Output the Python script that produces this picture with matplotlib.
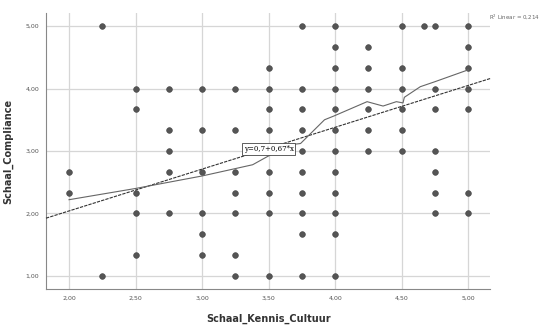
import matplotlib.pyplot as plt
import numpy as np

# scatter points per Kennis_Cultuur column
kennis = [2.0, 2.25, 2.5, 2.75, 3.0, 3.25, 3.5, 3.75, 4.0, 4.25, 4.5, 4.67, 4.75, 5.0]
compliance = [
    [2.67, 2.33],
    [5.0, 1.0],
    [4.0, 3.67, 2.33, 2.0, 1.33],
    [4.0, 3.33, 3.0, 2.67, 2.0],
    [4.0, 3.33, 2.67, 2.0, 1.67, 1.33],
    [4.0, 3.33, 2.67, 2.33, 2.0, 1.33, 1.0],
    [4.33, 4.0, 3.67, 3.33, 2.67, 2.33, 2.0, 1.0],
    [5.0, 4.0, 3.67, 3.33, 3.0, 2.67, 2.33, 2.0, 1.67, 1.0],
    [5.0, 4.67, 4.33, 4.0, 3.67, 3.33, 3.0, 2.67, 2.33, 2.0, 1.67, 1.0],
    [4.67, 4.33, 4.0, 3.67, 3.33, 3.0],
    [5.0, 4.33, 4.0, 3.67, 3.33, 3.0],
    [5.0],
    [5.0, 4.0, 3.67, 3.0, 2.67, 2.33, 2.0],
    [5.0, 4.67, 4.33, 4.0, 3.67, 2.33, 2.0],
]

# linear fit
intercept = 0.7
slope = 0.67
r2 = 0.214

# smoothed (loess) curve
loess_x = [2.0, 2.5, 3.0, 3.38, 3.49, 3.66, 3.74, 3.83, 3.92, 3.99, 4.24, 4.36, 4.46, 4.51, 4.52, 4.64, 4.75, 5.0]
loess_y = [2.22, 2.40, 2.60, 2.78, 2.91, 3.10, 3.12, 3.31, 3.50, 3.56, 3.79, 3.72, 3.79, 3.77, 3.86, 4.03, 4.11, 4.30]

xs = [k for k, col in zip(kennis, compliance) for _ in col]
ys = [v for col in compliance for v in col]

fig = plt.figure(figsize=(5.45, 3.26), dpi=100)
ax = fig.add_axes([0.0844, 0.1135, 0.815, 0.8466])

xlim = (1.827, 5.165)
ax.set_xlim(*xlim)
ax.set_ylim(0.79, 5.21)

ax.set_xticks(np.arange(2.0, 5.01, 0.5))
ax.set_yticks([1, 2, 3, 4, 5])
ax.set_xticklabels([f"{t:.2f}".replace(".", ",") for t in ax.get_xticks()])
ax.set_yticklabels([f"{t:.2f}".replace(".", ",") for t in ax.get_yticks()])
ax.tick_params(labelsize=4.5, labelcolor="#555555", length=0, pad=5)

ax.grid(True, color="#d6d6d6", linewidth=0.9)
ax.set_axisbelow(True)
for s in ["top", "right"]:
    ax.spines[s].set_visible(False)
for s in ["left", "bottom"]:
    ax.spines[s].set_color("#888888")
    ax.spines[s].set_linewidth(0.8)

ax.scatter(xs, ys, s=17, color="#555555", edgecolors="#404040", linewidths=0.4, zorder=3)

fx = np.array(xlim)
ax.plot(fx, intercept + slope * fx, color="#333333", linewidth=0.8,
        linestyle=(0, (3, 1)), zorder=4, clip_on=False)
ax.plot(loess_x, loess_y, color="#666666", linewidth=0.8, zorder=4)

ax.text(3.5, 3.03, "y=0,7+0,67*x", fontsize=5, family="serif", ha="center", va="center",
        zorder=5, bbox=dict(boxstyle="square,pad=0.25", fc="white", ec="#444444", lw=0.6))

ax.set_xlabel("Schaal_Kennis_Cultuur", fontsize=7, fontweight="bold", color="#333333", labelpad=9)
ax.set_ylabel("Schaal_Compliance", fontsize=7, fontweight="bold", color="#333333", labelpad=9)

fig.text(0.897, 0.948, "R$^2$ Linear = 0,214", fontsize=4.0, color="#666666", va="center")

fig.savefig("out.png", dpi=100)
